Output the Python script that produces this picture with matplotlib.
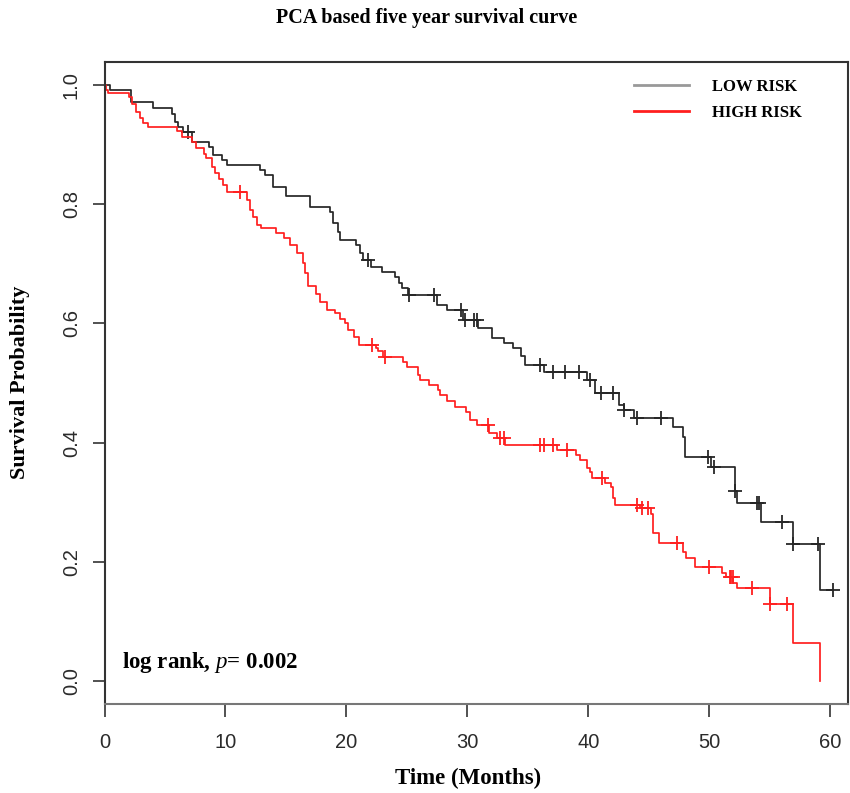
"""PCA based five year survival curve (Kaplan-Meier, low vs high risk)."""

import matplotlib.pyplot as plt
import numpy as np
from matplotlib.lines import Line2D

# ── LOW RISK: event times (months) and survival after each step ──────────
LOW_TIMES = [0, 0.46, 2.2, 4.0, 5.6, 5.8, 6.1, 6.5, 7.2, 8.6, 9.0, 9.7, 10.1,
             12.85, 13.3, 13.9, 15.0, 17.0, 18.6, 18.9, 19.3, 19.5, 20.8, 21.1,
             21.4, 22.0, 22.9, 24.0, 24.3, 24.6, 25.1, 27.5, 28.3, 29.65, 30.9,
             32.0, 33.0, 33.8, 34.4, 34.75, 36.3, 39.85, 40.5, 42.5, 42.9, 43.8,
             47.0, 47.8, 48.0, 50.1, 52.1, 52.3, 54.3, 56.9, 59.1]
LOW_SURV = [1.0, 0.991, 0.972, 0.962, 0.952, 0.938, 0.930, 0.921, 0.905, 0.896,
            0.883, 0.874, 0.866, 0.857, 0.849, 0.829, 0.813, 0.796, 0.787, 0.768,
            0.754, 0.740, 0.732, 0.718, 0.706, 0.695, 0.687, 0.678, 0.667, 0.659,
            0.648, 0.631, 0.622, 0.606, 0.592, 0.575, 0.567, 0.558, 0.545, 0.530,
            0.519, 0.505, 0.483, 0.463, 0.455, 0.441, 0.427, 0.410, 0.376, 0.359,
            0.318, 0.298, 0.267, 0.230, 0.153]
LOW_CENSOR = [6.9, 21.8, 25.2, 27.2, 29.5, 29.8, 30.5, 30.75, 36.0, 37.1, 38.1,
              39.2, 40.1, 41.0, 42.0, 42.9, 44.0, 46.0, 49.9, 50.4, 52.1, 53.9,
              54.1, 56.0, 56.9, 59.0, 60.2]

# ── HIGH RISK ─────────────────────────────────────────────────────────────
HIGH_TIMES = [0, 0.1, 0.3, 2.0, 2.3, 2.6, 2.9, 3.2, 3.6, 6.0, 6.4, 7.2, 7.6,
              8.2, 8.4, 8.9, 9.1, 9.5, 9.8, 10.1, 11.75, 12.0, 12.3, 12.6, 12.9,
              14.2, 14.8, 15.3, 15.9, 16.4, 16.6, 16.8, 17.5, 17.8, 18.4, 19.05,
              19.5, 19.9, 20.1, 20.6, 21.0, 22.4, 22.6, 23.0, 24.7, 25.0, 25.9,
              26.1, 26.8, 27.6, 27.7, 28.3, 29.0, 29.9, 30.2, 30.8, 31.75, 32.4,
              33.1, 37.4, 39.0, 39.3, 39.85, 40.1, 40.3, 41.4, 41.9, 42.05, 42.2,
              44.3, 45.2, 45.35, 45.8, 47.8, 48.1, 48.8, 51.0, 51.4, 51.97, 52.25,
              55.0, 56.9, 59.1]
HIGH_SURV = [1.0, 0.991, 0.986, 0.980, 0.968, 0.955, 0.944, 0.936, 0.930, 0.922,
             0.913, 0.905, 0.894, 0.885, 0.877, 0.863, 0.852, 0.843, 0.832, 0.821,
             0.807, 0.790, 0.779, 0.765, 0.760, 0.751, 0.743, 0.732, 0.718, 0.701,
             0.684, 0.662, 0.650, 0.636, 0.622, 0.617, 0.608, 0.600, 0.589, 0.578,
             0.564, 0.558, 0.553, 0.544, 0.536, 0.527, 0.513, 0.505, 0.497, 0.488,
             0.480, 0.469, 0.460, 0.452, 0.438, 0.430, 0.416, 0.407, 0.396, 0.388,
             0.379, 0.371, 0.357, 0.351, 0.340, 0.332, 0.326, 0.307, 0.295, 0.290,
             0.281, 0.248, 0.231, 0.217, 0.206, 0.192, 0.181, 0.175, 0.164, 0.156,
             0.130, 0.063, 0.0]
HIGH_CENSOR = [11.2, 22.1, 23.2, 31.7, 32.7, 33.0, 36.0, 36.3, 37.1, 38.2, 41.1,
               44.0, 44.4, 44.9, 47.3, 50.0, 51.7, 51.8, 51.95, 53.5, 55.0, 56.4]

X_TICKS = [0, 10, 20, 30, 40, 50, 60]
Y_TICKS = [0.0, 0.2, 0.4, 0.6, 0.8, 1.0]

LOW_COLOR = "#262626"
HIGH_COLOR = "#ff1f1f"
SERIF = "Liberation Serif"
SANS = "Liberation Sans"

plt.rcParams["mathtext.fontset"] = "custom"
plt.rcParams["mathtext.it"] = "Liberation Serif:italic"
plt.rcParams["mathtext.rm"] = "Liberation Serif:bold"


def surv_at(times, surv, t):
    idx = np.searchsorted(times, t, side="right") - 1
    return np.asarray(surv)[idx]


def draw_km(ax, times, surv, censor, color):
    times = np.asarray(times)
    surv = np.asarray(surv)
    end = max(times[-1], max(censor))
    if surv[-1] > 0:
        times = np.append(times, end)
        surv = np.append(surv, surv[-1])
    ax.step(times, surv, where="post", color=color, linewidth=1.25)
    ax.plot(censor, surv_at(times, surv, censor), linestyle="none",
            marker="+", markersize=10.5, markeredgewidth=1.3, color=color)


def main() -> None:
    fig = plt.figure(figsize=(8.5, 7.93), dpi=100)
    ax = fig.add_axes([104.5 / 850, 1 - 704 / 793, (848 - 104.5) / 850, (704 - 62) / 793])

    draw_km(ax, LOW_TIMES, LOW_SURV, LOW_CENSOR, LOW_COLOR)
    draw_km(ax, HIGH_TIMES, HIGH_SURV, HIGH_CENSOR, HIGH_COLOR)

    ax.set_xlim(0, 61.45)
    ax.set_ylim(-0.0386, 1.0386)
    ax.set_xticks(X_TICKS)
    ax.set_yticks(Y_TICKS)
    ax.set_yticklabels([f"{v:.1f}" for v in Y_TICKS], rotation=90, va="center")
    ax.tick_params(axis="both", direction="out", length=9, width=1.2,
                   color="#333333", labelsize=14.5, labelcolor="#2b2b2b")
    ax.tick_params(axis="x", pad=12)
    ax.tick_params(axis="y", pad=8)
    for lab in ax.get_xticklabels() + ax.get_yticklabels():
        lab.set_fontfamily(SANS)
    for side in ["left", "right", "top", "bottom"]:
        ax.spines[side].set_color("#333333")
        ax.spines[side].set_linewidth(1.5)
    ax.spines["bottom"].set_color("#777777")

    ax.text(1.45, 0.022, r"log rank, $\mathit{p}$= 0.002", fontsize=16.5,
            fontweight="bold", family=SERIF, ha="left", va="baseline")

    handles = [Line2D([], [], color="#999999", linewidth=2),
               Line2D([], [], color=HIGH_COLOR, linewidth=2)]
    ax.legend(handles, ["LOW RISK", "HIGH RISK"], frameon=False,
              loc="upper left", bbox_to_anchor=(634 / 850, 1 - 79 / 793),
              bbox_transform=fig.transFigure, borderpad=0, borderaxespad=0,
              handlelength=3.3, handletextpad=1.4, labelspacing=0.6,
              prop={"family": SERIF, "weight": "bold", "size": 12})

    fig.text(427 / 850, 1 - 18 / 793, "PCA based five year survival curve",
             ha="center", va="center", fontsize=14.5, fontweight="bold", family=SERIF)
    fig.text(468 / 850, 1 - 778 / 793, "Time (Months)", ha="center", va="center",
             fontsize=16.5, fontweight="bold", family=SERIF)
    fig.text(20 / 850, 1 - 382 / 793, "Survival Probability", ha="center", va="center",
             rotation=90, fontsize=16, fontweight="bold", family=SERIF)

    fig.savefig("out.png", dpi=100)
    plt.close(fig)


if __name__ == "__main__":
    main()
